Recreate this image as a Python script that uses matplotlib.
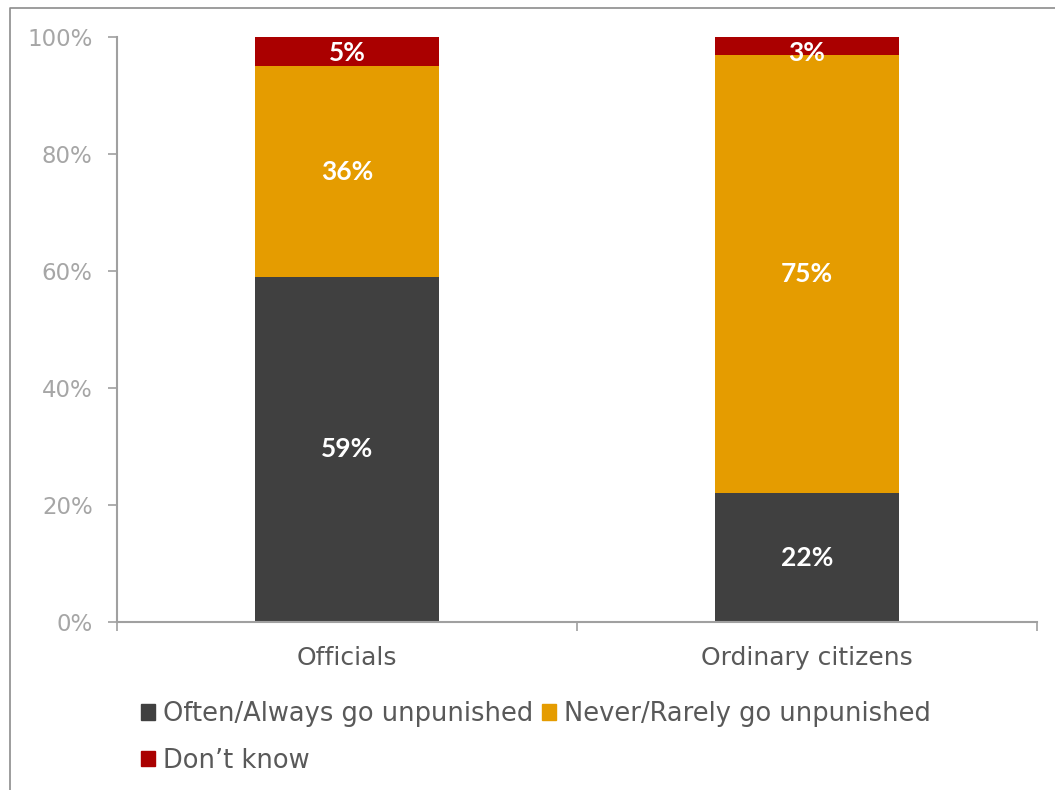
import matplotlib.pyplot as plt
import numpy as np
from matplotlib.lines import Line2D
from matplotlib.patches import Patch

# survey shares (%)
groups = ["Officials", "Ordinary citizens"]
often_always = [59, 22]
never_rarely = [36, 75]
dont_know = [5, 3]
series_names = ["Often/Always go unpunished", "Never/Rarely go unpunished", "Don\u2019t know"]
colors = ["#404040", "#E59C00", "#AA0000"]
yticks = [0, 20, 40, 60, 80, 100]

plt.rcParams["font.family"] = ["DejaVu Sans"]

fig = plt.figure(figsize=(10.55, 7.9), dpi=100)
ax = fig.add_axes([117 / 1055, 168 / 790, 920 / 1055, 585 / 790])

# outer frame line (left and top edges)
fx, fy = 10 / 1055, 1 - 7.5 / 790
fig.lines.append(Line2D([fx, fx, 1.05], [-0.05, fy, fy], transform=fig.transFigure,
                        color="#8c8c8c", linewidth=1.2))

x = np.arange(len(groups))
bottom = np.zeros(len(groups))
for vals, name, col in zip([often_always, never_rarely, dont_know], series_names, colors):
    vals = np.array(vals, dtype=float)
    ax.bar(x, vals, width=0.4, bottom=bottom, color=col, label=name, zorder=2)
    for xi, b, v in zip(x, bottom, vals):
        # keep thin top segments' labels inside the plot area
        ax.text(xi, min(b + v / 2, 97.3), f"{v:.0f}%", ha="center", va="center", color="white",
                fontsize=19, fontweight="bold", family=["Lato", "DejaVu Sans"])
    bottom += vals

ax.set_xlim(-0.5, 1.5)
ax.set_ylim(0, 100)
ax.set_yticks(yticks)
ax.set_yticklabels([f"{t}%" for t in yticks])
ax.set_xticks(x)
ax.set_xticklabels(groups)
ax.set_xticks([-0.5, 0.5, 1.5], minor=True)

for side in ["top", "right"]:
    ax.spines[side].set_visible(False)
for side in ["left", "bottom"]:
    ax.spines[side].set_color("#a0a0a0")
    ax.spines[side].set_linewidth(1.5)

ax.tick_params(axis="y", length=6.5, width=1.2, color="#a0a0a0", labelcolor="#a6a6a6",
               labelsize=16.5, pad=11)
ax.tick_params(axis="x", which="major", length=0, labelcolor="#595959", labelsize=18, pad=17)
ax.tick_params(axis="x", which="minor", length=6.5, width=1.2, color="#a0a0a0")

handles = [Patch(color=c) for c in colors]
order = [0, 2, 1]
fig.legend([handles[i] for i in order], [series_names[i] for i in order],
           loc="upper left", bbox_to_anchor=(131 / 1055, 1 - 691 / 790), ncol=2,
           frameon=False, fontsize=18.5, labelcolor="#595959",
           handlelength=0.55, handleheight=0.55, handletextpad=0.3,
           columnspacing=0.35, labelspacing=0.8, borderaxespad=0)

plt.savefig("out.png", dpi=100)
